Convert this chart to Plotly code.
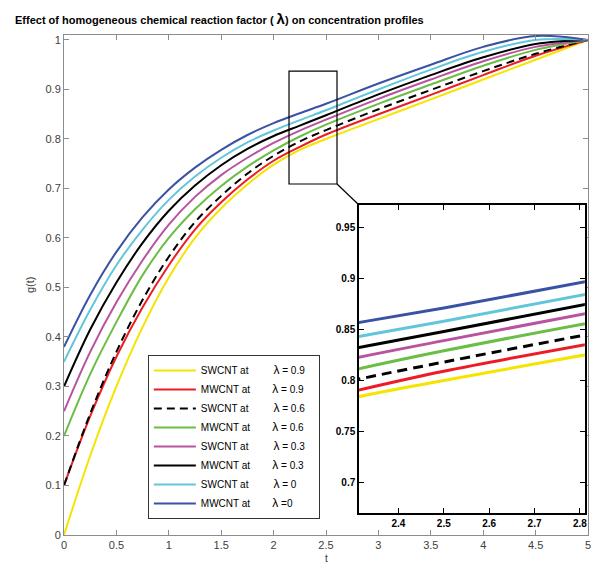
import plotly.graph_objects as go

# t grid and g(t) values
t = [0, 0.25, 0.5, 0.75, 1, 1.25, 1.5, 1.75, 2, 2.25, 2.5, 3, 3.5, 4, 4.5, 5]

sw_09 = [0, .16, .30, .42, .52, .60, .66, .708, .748, .778, .800, .840, .880, .920, .960, 1.0]
mw_09 = [.10, .24, .36, .46, .545, .617, .672, .718, .756, .784, .809, .850, .889, .929, .968, 1.0]
sw_06 = [.10, .245, .37, .475, .562, .632, .685, .730, .766, .795, .818, .860, .899, .937, .972, 1.0]
mw_06 = [.20, .325, .43, .525, .600, .658, .705, .744, .777, .805, .829, .871, .910, .948, .980, 1.0]
sw_03 = [.25, .37, .47, .555, .627, .683, .727, .762, .792, .817, .839, .881, .920, .957, .986, 1.0]
mw_03 = [.30, .415, .51, .59, .655, .706, .747, .780, .806, .827, .848, .890, .929, .965, .992, 1.0]
sw_0 = [.35, .455, .545, .617, .677, .724, .762, .793, .817, .838, .858, .900, .940, .976, 1.000, 1.0]
mw_0 = [.38, .485, .572, .642, .698, .742, .778, .808, .832, .852, .871, .912, .950, .986, 1.008, 1.0]

labels = ['SWCNT at', 'MWCNT at', 'SWCNT at', 'MWCNT at',
          'SWCNT at', 'MWCNT at', 'SWCNT at', 'MWCNT at']
lambdas = ['= 0.9', '= 0.9', '= 0.6', '= 0.6', '= 0.3', '= 0.3', '= 0', '=0']
series = [sw_09, mw_09, sw_06, mw_06, sw_03, mw_03, sw_0, mw_0]
colors = ['#F5E300', '#ED1C24', '#000000', '#6ABD45',
          '#B9529F', '#000000', '#62C6DA', '#3A52A3']
dashes = ['solid', 'solid', '8px,5px', 'solid', 'solid', 'solid', 'solid', 'solid']

FONT = 'Liberation Sans, Arial, sans-serif'

# page body has an 8px margin, so the figure is a bit smaller than the window
W, H = 584, 556

fig = go.Figure()

for i, y in enumerate(series):
    gap = '\u00a0' * (9 if labels[i].startswith('S') else 8)
    name = labels[i] + gap + "<span style='font-size:12px'>λ</span> " + lambdas[i] + '\u00a0\u00a0\u00a0'
    fig.add_trace(go.Scatter(
        x=t, y=y, mode='lines', name=name,
        line=dict(color=colors[i], width=2, dash=dashes[i], shape='spline'),
        xaxis='x', yaxis='y'
    ))

# zoomed inset
for i, y in enumerate(series):
    fig.add_trace(go.Scatter(
        x=t, y=y, mode='lines', showlegend=False,
        line=dict(color=colors[i], width=3,
                  dash='10px,6px' if dashes[i] != 'solid' else 'solid',
                  shape='spline'),
        xaxis='x2', yaxis='y2'
    ))

axis_common = dict(showgrid=False, zeroline=False, showline=True, automargin=False,
                   mirror='ticks', ticks='inside', ticklen=5)

fig.update_layout(
    width=W, height=H,
    margin=dict(l=56, r=4, t=27, b=29, autoexpand=False),
    paper_bgcolor='white',
    plot_bgcolor='white',
    font=dict(family=FONT, size=11, color='#404040'),
    title=dict(
        text="Effect of homogeneous chemical reaction factor ( <span style='font-size:15px'>λ</span>) on concentration profiles",
        x=7 / W, xanchor='left', xref='container',
        y=1 - 12 / H, yanchor='middle', pad=dict(l=0, r=0, t=0, b=0),
        font=dict(family=FONT, size=11, color='black', weight='bold')
    ),
    xaxis=dict(range=[0, 5], dtick=0.5, linecolor='#8c8c8c', tickcolor='#8c8c8c',
               tickfont=dict(size=11, color='#404040'), **axis_common),
    yaxis=dict(range=[0, 1.01], dtick=0.1, linecolor='#8c8c8c', tickcolor='#8c8c8c',
               tickfont=dict(size=11, color='#404040'), **axis_common),
    xaxis2=dict(domain=[0.563, 0.994], anchor='y2', range=[2.313, 2.811],
                tickvals=[2.4, 2.5, 2.6, 2.7, 2.8],
                ticktext=['2.4', '2.5', '2.6', '2.7', '2.8'],
                linecolor='black', tickcolor='black', linewidth=1.5,
                tickfont=dict(size=10, color='black', weight='bold'), **axis_common),
    yaxis2=dict(domain=[0.044, 0.66], anchor='x2', range=[0.67, 0.972],
                tickvals=[0.7, 0.75, 0.8, 0.85, 0.9, 0.95],
                ticktext=['0.7', '0.75', '0.8', '0.85', '0.9', '0.95'],
                linecolor='black', tickcolor='black', linewidth=1.5,
                tickfont=dict(size=10, color='black', weight='bold'), **axis_common),
    legend=dict(x=0.160, y=0.36, xanchor='left', yanchor='top',
                bgcolor='white', bordercolor='#333333', borderwidth=1,
                font=dict(family=FONT, size=10, color='black'),
                itemwidth=42, tracegroupgap=0),
    showlegend=True,
    annotations=[
        dict(text='g(t)', x=-0.080, y=0.5, xref='paper', yref='paper',
             textangle=-90, showarrow=False, font=dict(size=11, color='#333333')),
        dict(text='t', x=0.5, y=-0.062, xref='paper', yref='paper',
             showarrow=False, font=dict(size=10, color='#333333')),
    ],
    shapes=[
        dict(type='rect', xref='x', yref='y', x0=2.147, x1=2.605, y0=0.709, y1=0.937,
             line=dict(color='black', width=1.2)),
        dict(type='line', xref='paper', yref='paper', x0=0.521, y0=0.702, x1=0.563, y1=0.660,
             line=dict(color='black', width=1.2)),
    ],
)

fig.write_html("out.html")
